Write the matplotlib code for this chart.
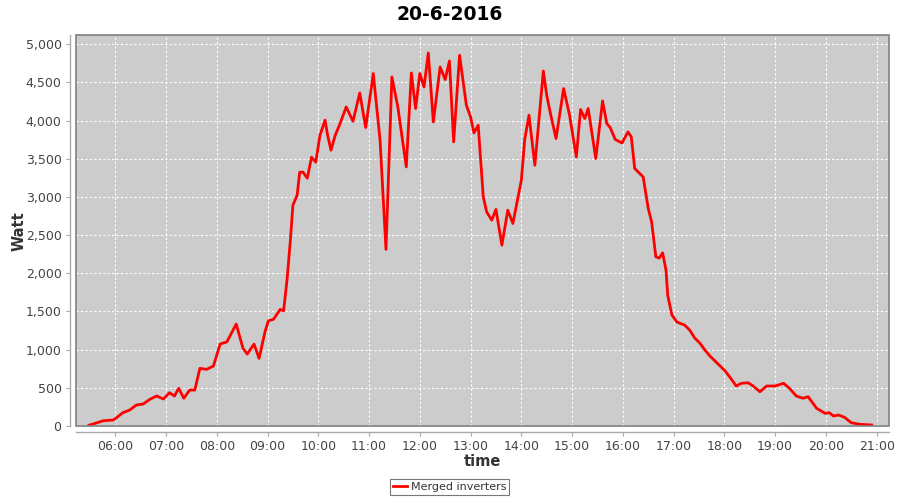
import matplotlib
matplotlib.use("Agg")
import matplotlib.pyplot as plt
from matplotlib.patches import Rectangle
from matplotlib.ticker import FuncFormatter

title = "20-6-2016"
series_name = "Merged inverters"
x_label = "time"
y_label = "Watt"

times = ["05:29", "05:46", "05:58", "06:09", "06:17", "06:25", "06:33", "06:41", "06:49", "06:57",
         "07:04", "07:10", "07:15", "07:21", "07:28", "07:34", "07:40", "07:48", "07:56", "08:04",
         "08:12", "08:23", "08:31", "08:36", "08:44", "08:50", "08:57", "09:01", "09:07", "09:15",
         "09:19", "09:23", "09:27", "09:30", "09:35", "09:38", "09:42", "09:47", "09:52", "09:57",
         "10:02", "10:08", "10:11", "10:15", "10:20", "10:25", "10:33", "10:41", "10:49", "10:56",
         "11:05", "11:13", "11:20", "11:27", "11:34", "11:44", "11:50", "11:55", "12:00", "12:05",
         "12:10", "12:16", "12:24", "12:30", "12:35", "12:40", "12:47", "12:55", "13:00", "13:04",
         "13:09", "13:15", "13:19", "13:25", "13:30", "13:37", "13:44", "13:50", "14:00", "14:04",
         "14:09", "14:16", "14:26", "14:30", "14:34", "14:41", "14:50", "14:57", "15:05", "15:10",
         "15:15", "15:19", "15:28", "15:36", "15:41", "15:45", "15:51", "15:59", "16:06", "16:10",
         "16:14", "16:20", "16:24", "16:30", "16:34", "16:39", "16:43", "16:47", "16:51", "16:53",
         "16:58", "17:04", "17:13", "17:19", "17:25", "17:31", "17:37", "17:43", "17:49", "17:55",
         "18:01", "18:09", "18:14", "18:20", "18:28", "18:34", "18:42", "18:50", "19:00", "19:10",
         "19:17", "19:25", "19:33", "19:39", "19:49", "19:59", "20:04", "20:09", "20:15", "20:22",
         "20:30", "20:40", "20:54"]
watts = [10, 69, 79, 174, 209, 275, 288, 350, 393, 353,
         436, 393, 494, 363, 471, 471, 755, 742, 785, 1073,
         1103, 1335, 1017, 942, 1073, 886, 1234, 1378, 1397, 1528,
         1509, 1911, 2435, 2893, 3024, 3325, 3325, 3246, 3521, 3456,
         3809, 4006, 3809, 3613, 3809, 3940, 4180, 3992, 4363, 3910,
         4617, 3744, 2313, 4572, 4180, 3394, 4625, 4159, 4617, 4441,
         4887, 3983, 4703, 4538, 4782, 3722, 4856, 4202, 4049, 3839,
         3940, 3002, 2805, 2697, 2837, 2369, 2827, 2653, 3220, 3753,
         4071, 3416, 4651, 4333, 4114, 3766, 4420, 4071, 3525, 4146,
         4028, 4159, 3504, 4258, 3962, 3910, 3753, 3708, 3852, 3787,
         3373, 3308, 3263, 2850, 2674, 2216, 2199, 2268, 2042, 1715,
         1453, 1361, 1322, 1257, 1152, 1086, 995, 916, 851, 785,
         720, 602, 524, 559, 567, 524, 449, 524, 524, 559,
         493, 393, 363, 384, 232, 166, 174, 131, 144, 114,
         43, 22, 13]
x_ticks = ["06:00", "07:00", "08:00", "09:00", "10:00", "11:00", "12:00", "13:00",
           "14:00", "15:00", "16:00", "17:00", "18:00", "19:00", "20:00", "21:00"]
y_ticks = [0, 500, 1000, 1500, 2000, 2500, 3000, 3500, 4000, 4500, 5000]


def to_hours(s):
    h, m = s.split(":")
    return int(h) + int(m) / 60.0


xs = [to_hours(t) for t in times]
xt = [to_hours(t) for t in x_ticks]

plt.rcParams['font.family'] = ['DejaVu Sans']
fig = plt.figure(figsize=(9, 5), dpi=100)
ax = fig.add_axes([75.5 / 900, 1 - 426 / 500, (888.5 - 75.5) / 900, (426 - 35.3) / 500])
ax.set_facecolor("#cccccc")
ax.plot(xs, watts, color="#ff0000", lw=2.0, solid_joinstyle="round", label=series_name, zorder=3)

ax.set_xlim(5 + 13 / 60, 21 + 14 / 60)
ax.set_ylim(0, 5118)
ax.set_xticks(xt)
ax.set_xticklabels(x_ticks)
ax.set_yticks(y_ticks)
ax.yaxis.set_major_formatter(FuncFormatter(lambda v, p: f"{int(v):,}"))

ax.grid(True, color="white", linestyle=(0, (2, 2)), linewidth=0.8, zorder=1)
ax.set_axisbelow(True)

for side in ["top", "right"]:
    ax.spines[side].set_visible(False)
for side in ["left", "bottom"]:
    ax.spines[side].set_position(("outward", 4))
    ax.spines[side].set_color("#aaaaaa")
    ax.spines[side].set_linewidth(1.0)
ax.add_patch(Rectangle((0, 0), 1, 1, transform=ax.transAxes, fill=False,
                       edgecolor="#808080", linewidth=1.2, clip_on=False, zorder=5))

ax.tick_params(axis="both", which="major", length=3, width=0.8, color="#aaaaaa",
               labelcolor="#444444", labelsize=9, pad=3)

ax.set_xlabel(x_label, fontsize=10.5, fontweight="bold", color="#333333", labelpad=1)
ax.set_ylabel(y_label, fontsize=10.5, fontweight="bold", color="#333333", labelpad=-1)
fig.suptitle(title, x=0.5, y=0.99, fontsize=13.5, fontweight="bold", color="black", va="top")

leg = fig.legend(loc="center", bbox_to_anchor=(449.5 / 900, 1 - 487 / 500), fontsize=8,
                 frameon=True, fancybox=False, edgecolor="#555555", handlelength=1.3,
                 handletextpad=0.3, borderpad=0.3, borderaxespad=0)
leg.get_frame().set_linewidth(0.8)
for t in leg.get_texts():
    t.set_color("#333333")

fig.savefig("out.png", dpi=100)
